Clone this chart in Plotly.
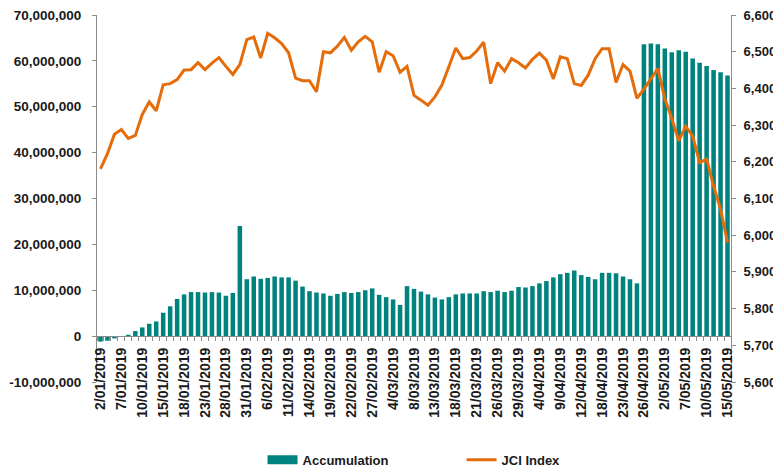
import plotly.graph_objects as go

dates = (
    [f"{d}/01/2019" for d in [2,3,4,7,8,9,10,11,14,15,16,17,18,21,22,23,24,25,28,29,30,31]]
    + [f"{d}/02/2019" for d in [1,4,6,7,8,11,12,13,14,15,18,19,20,21,22,25,26,27,28]]
    + [f"{d}/03/2019" for d in [1,4,5,6,8,11,12,13,14,15,18,19,20,21,22,25,26,27,28,29]]
    + [f"{d}/04/2019" for d in [1,2,4,5,8,9,10,11,12,15,16,18,19,22,23,24,25,26,29,30]]
    + [f"{d}/05/2019" for d in [2,3,6,7,8,9,10,13,14,15]]
)

accumulation = [
    -1.2e6, -1.0e6, -0.5e6, 0.0, 0.3e6, 1.1e6, 1.9e6, 2.7e6, 3.2e6, 5.1e6,
    6.5e6, 8.1e6, 9.1e6, 9.6e6, 9.6e6, 9.5e6, 9.6e6, 9.5e6, 8.8e6, 9.4e6,
    24.0e6, 12.4e6, 13.0e6, 12.5e6, 12.7e6, 13.0e6, 12.8e6, 12.8e6, 12.1e6, 10.8e6,
    9.8e6, 9.5e6, 9.3e6, 8.8e6, 9.2e6, 9.6e6, 9.4e6, 9.6e6, 10.0e6, 10.4e6,
    9.0e6, 8.5e6, 8.0e6, 6.8e6, 10.9e6, 10.3e6, 9.7e6, 9.1e6, 8.4e6, 8.0e6,
    8.5e6, 9.1e6, 9.3e6, 9.3e6, 9.3e6, 9.8e6, 9.6e6, 9.9e6, 9.6e6, 9.9e6,
    10.7e6, 10.6e6, 10.9e6, 11.5e6, 12.0e6, 12.8e6, 13.5e6, 13.8e6, 14.3e6, 13.3e6,
    12.9e6, 12.4e6, 13.8e6, 13.8e6, 13.7e6, 13.0e6, 12.4e6, 11.5e6, 63.6e6, 63.8e6,
    63.6e6, 62.7e6, 61.9e6, 62.3e6, 62.0e6, 60.5e6, 59.6e6, 58.9e6, 58.0e6, 57.5e6,
    56.8e6,
]

jci = [
    6181, 6222, 6275, 6288, 6264, 6272, 6329, 6363, 6339, 6410,
    6413, 6424, 6450, 6451, 6470, 6451, 6469, 6484, 6460, 6438,
    6465, 6533, 6540, 6483, 6550, 6538, 6522, 6497, 6428, 6421,
    6421, 6391, 6500, 6497, 6515, 6539, 6504, 6527, 6542, 6527,
    6444, 6500, 6489, 6444, 6460, 6381, 6368, 6354, 6377, 6409,
    6459, 6510, 6481, 6484, 6502, 6526, 6413, 6470, 6447, 6481,
    6470, 6456, 6479, 6496, 6477, 6426, 6486, 6481, 6413, 6408,
    6436, 6481, 6508, 6508, 6416, 6465, 6447, 6373, 6398, 6425,
    6454, 6372, 6318, 6257, 6297, 6270, 6198, 6207, 6134, 6071,
    5980,
]

left_ticks = [-10e6, 0, 10e6, 20e6, 30e6, 40e6, 50e6, 60e6, 70e6]
left_labels = ["-10,000,000", "0", "10,000,000", "20,000,000", "30,000,000",
               "40,000,000", "50,000,000", "60,000,000", "70,000,000"]
right_ticks = [5600, 5700, 5800, 5900, 6000, 6100, 6200, 6300, 6400, 6500, 6600]
right_labels = ["5,600", "5,700", "5,800", "5,900", "6,000", "6,100", "6,200",
                "6,300", "6,400", "6,500", "6,600"]

idx = list(range(len(dates)))
label_idx = idx[::3]
label_txt = dates[::3]

TEAL = "#00827F"
ORANGE = "#E46C0A"
AXC = "#8C8C8C"
TXT = "#1A1A1A"
FONT = "Liberation Sans"

fig = go.Figure()
fig.add_trace(go.Bar(x=idx, y=accumulation, name="Accumulation", showlegend=False,
                     marker=dict(color=TEAL, line=dict(width=0)), yaxis="y"))
# legend swatch for the bars: a wide flat rectangle like the reference
fig.add_trace(go.Scatter(x=[None], y=[None], name="Accumulation", mode="lines",
                         line=dict(color=TEAL, width=9), yaxis="y", hoverinfo="skip"))
fig.add_trace(go.Scatter(x=idx, y=jci, name="JCI Index", mode="lines",
                         line=dict(color=ORANGE, width=3), yaxis="y2"))

ymin, ymax = -10e6, 70e6
zero_frac = (0 - ymin) / (ymax - ymin)

# page has an 8px body margin, so figure is 8px smaller and margins compensate
fig.update_layout(
    width=773, height=462,
    margin=dict(l=89, r=50, t=7, b=88, autoexpand=False),
    paper_bgcolor="white", plot_bgcolor="white",
    bargap=0.35,
    font=dict(family=FONT, size=13, color=TXT, weight="bold"),
    showlegend=True,
    legend=dict(orientation="h", x=0.575, xanchor="center", y=-0.212, yanchor="middle",
                font=dict(family=FONT, size=13, color=TXT, weight="bold"),
                itemwidth=30, tracegroupgap=0, entrywidth=154),
    xaxis=dict(
        range=[-0.5, len(dates) - 0.5],
        anchor="free", position=zero_frac, automargin=False,
        showline=True, linecolor=AXC, linewidth=1,
        showgrid=False, zeroline=False,
        tickmode="array", tickvals=label_idx, ticktext=label_txt,
        tickangle=-90, ticks="", ticklabelstandoff=5,
        tickfont=dict(family=FONT, size=14, color=TXT, weight="bold"),
        minor=dict(ticks="outside", tick0=0.5, dtick=1, ticklen=4,
                   tickcolor=AXC, tickwidth=1, showgrid=False),
    ),
    yaxis=dict(
        range=[ymin, ymax], domain=[0, 1], automargin=False,
        showline=True, linecolor=AXC, linewidth=1,
        showgrid=False, zeroline=False,
        tickmode="array", tickvals=left_ticks, ticktext=left_labels,
        ticks="outside", ticklen=4, tickcolor=AXC, ticklabelstandoff=8,
        ticklabeloverflow="allow",
        tickfont=dict(family=FONT, size=13.5, color=TXT, weight="bold"),
    ),
    yaxis2=dict(
        range=[5600, 6600], overlaying="y", side="right", automargin=False,
        showline=True, linecolor=AXC, linewidth=1,
        showgrid=False, zeroline=False,
        tickmode="array", tickvals=right_ticks, ticktext=right_labels,
        ticks="outside", ticklen=4, tickcolor=AXC, ticklabelstandoff=5,
        ticklabeloverflow="allow",
        tickfont=dict(family=FONT, size=13, color=TXT, weight="bold"),
    ),
)

fig.write_html("out.html")
